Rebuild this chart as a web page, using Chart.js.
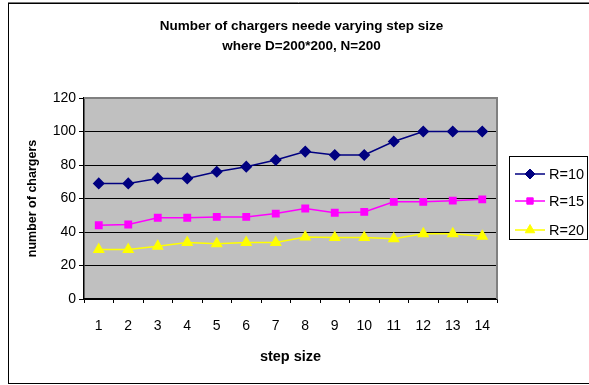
<!DOCTYPE html>
<html lang="en">
<head>
  <meta charset="UTF-8" />
  <title>Number of chargers</title>
  <style>
    html, body { margin: 0; padding: 0; background: #fff; }
    #wrap { width: 589px; height: 385px; }
  </style>
</head>
<body>
  <div id="wrap"><canvas id="chart" width="589" height="385"></canvas></div>

  <script src="https://cdn.jsdelivr.net/npm/chart.js"></script>
  <script>
    // data
    const stepSizes = ["1", "2", "3", "4", "5", "6", "7", "8", "9", "10", "11", "12", "13", "14"];
    const r10 = [69, 69, 72, 72, 76, 79, 83, 88, 86, 86, 94, 100, 100, 100];
    const r15 = [44, 44.5, 48.5, 48.5, 49, 49, 51, 54, 51.5, 52, 58, 58, 58.7, 59.5];
    const r20 = [29.5, 29.5, 31.5, 33.7, 33, 33.7, 33.7, 37, 36.7, 36.7, 36, 39, 39, 37.5];
    const yTicks = [0, 20, 40, 60, 80, 100, 120];

    const titleLines = ["Number of chargers neede varying step size", "where D=200*200, N=200"];
    const FONT = "'Liberation Sans', Arial, sans-serif";

    // frame, title and boxed legend
    const decor = {
      id: "decor",
      beforeDraw(chart) {
        const ctx = chart.ctx;
        const a = chart.chartArea;
        ctx.save();
        ctx.fillStyle = "#c0c0c0";
        ctx.fillRect(a.left, a.top, a.right - a.left, a.bottom - a.top);
        ctx.restore();
      },
      afterDraw(chart) {
        const ctx = chart.ctx;
        const a = chart.chartArea;
        ctx.save();
        // plot area border (top/right grey)
        ctx.strokeStyle = "#808080";
        ctx.lineWidth = 2;
        ctx.beginPath();
        ctx.moveTo(a.left, a.top);
        ctx.lineTo(a.right, a.top);
        ctx.lineTo(a.right, a.bottom);
        ctx.stroke();

        // outer frame
        ctx.strokeStyle = "#000";
        ctx.lineWidth = 1;
        ctx.strokeRect(8.5, 3.5, 600, 380);
        ctx.strokeStyle = "#777";
        ctx.beginPath();
        ctx.moveTo(8, 2.5); ctx.lineTo(589, 2.5);
        ctx.stroke();

        // title
        ctx.fillStyle = "#000";
        ctx.font = "bold 13.5px " + FONT;
        ctx.textAlign = "center";
        ctx.textBaseline = "middle";
        ctx.fillText(titleLines[0], 301.5, 26);
        ctx.fillText(titleLines[1], 301.5, 46);

        // legend
        ctx.lineWidth = 1;
        ctx.strokeStyle = "#000";
        ctx.strokeRect(509.5, 156.5, 78, 83);
        const rows = [174, 201, 230];
        chart.data.datasets.forEach((ds, i) => {
          const y = rows[i];
          ctx.strokeStyle = ds.borderColor;
          ctx.fillStyle = ds.backgroundColor;
          ctx.lineWidth = ds.borderWidth;
          ctx.beginPath();
          ctx.moveTo(515, y);
          ctx.lineTo(545, y);
          ctx.stroke();
          ctx.lineWidth = 1;
          Chart.helpers.drawPoint(ctx, {
            pointStyle: ds.pointStyle,
            radius: ds.pointRadius,
            borderWidth: 1
          }, 530, y);
          ctx.fillStyle = "#000";
          ctx.font = "14.5px " + FONT;
          ctx.textAlign = "left";
          ctx.fillText(ds.label, 549, y + 0.5);
        });
        ctx.restore();
      }
    };

    function series(label, data, color, style, radius) {
      return {
        label: label,
        data: data,
        borderColor: color,
        backgroundColor: color,
        pointBackgroundColor: color,
        pointBorderColor: color,
        pointStyle: style,
        pointRadius: radius,
        pointHoverRadius: radius,
        borderWidth: 1.5,
        tension: 0,
        fill: false
      };
    }

    new Chart(document.getElementById("chart").getContext("2d"), {
      type: "line",
      data: {
        labels: stepSizes,
        datasets: [
          series("R=10", r10, "#000080", "rectRot", 5),
          series("R=15", r15, "#ff00ff", "rect", 4.5),
          series("R=20", r20, "#ffff00", "triangle", 5.5)
        ]
      },
      plugins: [decor],
      options: {
        responsive: false,
        animation: false,
        layout: { padding: { top: 98, right: 92, left: 0, bottom: 0 } },
        plugins: {
          legend: { display: false },
          title: { display: false },
          tooltip: { enabled: false }
        },
        scales: {
          x: {
            type: "category",
            offset: true,
            afterFit: s => { s.height = 86; },
            grid: {
              offset: true,
              drawOnChartArea: false,
              drawTicks: true,
              tickLength: 4,
              color: "#000",
              lineWidth: 1
            },
            border: { color: "#000", width: 1.5 },
            ticks: {
              color: "#000",
              padding: 15,
              maxRotation: 0,
              autoSkip: false,
              font: { family: FONT, size: 14 }
            },
            title: {
              display: true,
              text: "step size",
              color: "#000",
              font: { family: FONT, size: 14.5, weight: "bold" },
              padding: { top: 0, bottom: 19 }
            }
          },
          y: {
            min: 0,
            max: 120,
            afterFit: s => { s.width = 84; },
            afterBuildTicks: s => { s.ticks = yTicks.map(v => ({ value: v })); },
            grid: {
              color: "#000",
              lineWidth: 1,
              drawTicks: true,
              tickLength: 5
            },
            border: { color: "#000", width: 1.5 },
            ticks: {
              color: "#000",
              padding: 3,
              font: { family: FONT, size: 14 }
            },
            title: {
              display: true,
              text: "number of chargers",
              color: "#000",
              font: { family: FONT, size: 12.5, weight: "bold" },
              padding: { top: 25.5, bottom: 0 }
            }
          }
        }
      }
    });
  </script>
</body>
</html>
